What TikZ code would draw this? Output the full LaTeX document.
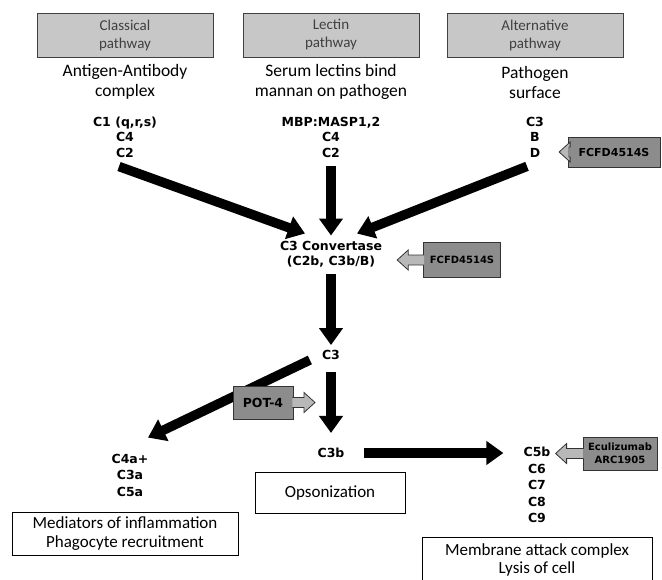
\documentclass[tikz,border=0pt]{standalone}
\usepackage{fontspec}
\setmainfont{Carlito}
\newfontfamily\cfont{DejaVu Sans}
\usetikzlibrary{positioning, calc, arrows.meta}
\tikzset{hdr/.style={draw=black!75, line width=1pt, fill=black!22, minimum width=176, minimum height=44, align=center, text=black!75, font=\fontsize{15}{18}\selectfont},
desc/.style={align=center, font=\fontsize{17.5}{20}\selectfont},
comp/.style={align=center, inner sep=1pt, font=\cfont\bfseries\fontsize{12.5}{15.5}\selectfont},
loose/.style={font=\cfont\bfseries\fontsize{12.5}{16.5}\selectfont},
drug/.style={draw=black!80, line width=0.8pt, fill=black!45, align=center, inner sep=1pt, font=\cfont\bfseries\fontsize{10.5}{12}\selectfont},
outcome/.style={draw, line width=1pt, align=center, font=\fontsize{17}{18.5}\selectfont},
line/.style={line width=9.5pt, -{Triangle[length=17pt,width=23pt]}},
inhib/.style={draw=black!80, line width=0.8pt, fill=black!28}
}
% hollow block arrow from a drug box: box anchor, target, direction (1 right, -1 left)
\newcommand{\drugarrow}[3]{%
  \filldraw[inhib] let \p1=(#1), \p2=(#2) in
    ({\x1-(#3)*1},{\y1+5}) -- ({\x2-(#3)*11},{\y1+5}) -- ({\x2-(#3)*11},{\y1+10}) -- (\x2,\y1)
    -- ({\x2-(#3)*11},{\y1-10}) -- ({\x2-(#3)*11},{\y1-5}) -- ({\x1-(#3)*1},{\y1-5});}
\begin{document}
\begin{tikzpicture}[x=1pt,y=-1pt]
\useasboundingbox (0,0) rectangle (662,579);
% pathways
\node[hdr] (cp) at (125,35) {Classical\\pathway};
\node[hdr] (lp) at (331,35) {Lectin\\pathway};
\node[hdr] (ap) at (535,35) {Alternative\\pathway};
\node[desc] (ct) at (125,82) {Antigen-Antibody\\complex};
\node[desc] (lt) at (331,82) {Serum lectins bind\\mannan on pathogen};
\node[desc] (at) at (535,82) {Pathogen\\surface};
\node[comp] (cl) at (125,137) {C1 (q,r,s)\\C4\\C2};
\node[comp] (ll) at (331,137) {MBP:MASP1,2\\C4\\C2};
\node[comp] (al) at (535,137) {C3\\B\\D};
% convertase and products
\node[comp] (conv) at (331,254) {C3 Convertase\\(C2b, C3b/B)};
\node[comp] (c3) at (331,355) {C3};
\node[comp] (c3b) at (331,453) {C3b};
\node[comp, loose] (infl) at (130,475) {C4a+\\C3a\\C5a};
\node[comp, loose] (macl) at (537,485) {C5b\\C6\\C7\\C8\\C9};
\node[outcome, minimum width=150, minimum height=41] (ops) at (330,492.5) {Opsonization};
\node[outcome, minimum width=226, minimum height=43] (med) at (125,533.5) {Mediators of inflammation\\Phagocyte recruitment};
\node[outcome, minimum width=230, minimum height=46] (mac) at (537,560) {Membrane attack complex\\Lysis of cell};
% cascade arrows
\draw[line] ([xshift=-6,yshift=-8]cl.south) -- ([xshift=-26,yshift=6]conv.north);
\draw[line] ([yshift=-8]ll.south) -- ([yshift=4]conv.north);
\draw[line] ([xshift=-8,yshift=-8]al.south) -- ([xshift=26,yshift=6]conv.north);
\draw[line] ([yshift=-6]conv.south) -- ([yshift=4]c3.north);
\draw[line] ([xshift=-11,yshift=-5]c3.west) -- ([xshift=18,yshift=15]infl.north);
\draw[line] ([yshift=-11]c3.south) -- ([yshift=14]c3b.north);
\draw[line] ([xshift=18]c3b.east) -- ([xshift=-19]c3b.east -| macl.west);
% inhibitors
\node[drug, minimum width=92, minimum height=30, font=\cfont\bfseries\fontsize{11}{12}\selectfont] (fc1) at (614,152) {FCFD4514S};
\node[drug, minimum width=77, minimum height=35, font=\cfont\bfseries\fontsize{10}{12}\selectfont] (fc2) at (462,260) {FCFD4514S};
\node[drug, minimum width=60, minimum height=33, font=\cfont\bfseries\fontsize{12.5}{14}\selectfont] (pot) at (263,402.5) {POT-4};
\node[drug, minimum width=74, minimum height=33, font=\cfont\bfseries\fontsize{10}{12.5}\selectfont] (ecu) at (620,453.5) {Eculizumab\\ARC1905};
\drugarrow{fc1.west}{[xshift=14]al.east}{-1}
\drugarrow{fc2.west}{[xshift=14]conv.east}{-1}
\drugarrow{pot.east}{[xshift=-16]c3b.north}{1}
\drugarrow{ecu.west}{[xshift=4]macl.north east}{-1}
\end{tikzpicture}
\end{document}
